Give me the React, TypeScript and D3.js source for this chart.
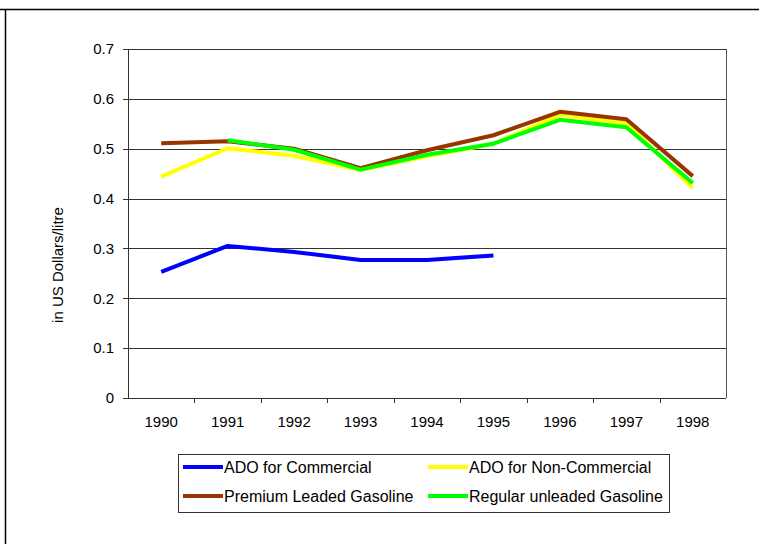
import React from "react";
import * as d3 from "d3";

const years = ["1990", "1991", "1992", "1993", "1994", "1995", "1996", "1997", "1998"];
const adoCommercial: (number | null)[] = [0.253, 0.305, 0.293, 0.277, 0.277, 0.286, null, null, null];
const adoNonCommercial: (number | null)[] = [0.444, 0.501, 0.486, 0.457, 0.485, 0.51, 0.568, 0.551, 0.421];
const premiumLeaded: (number | null)[] = [0.511, 0.515, 0.5, 0.461, 0.497, 0.527, 0.574, 0.559, 0.445];
const regularUnleaded: (number | null)[] = [null, 0.517, 0.498, 0.458, 0.488, 0.51, 0.558, 0.543, 0.431];
const yTicks = [0, 0.1, 0.2, 0.3, 0.4, 0.5, 0.6, 0.7];
const seriesNames = ["ADO for Commercial", "ADO for Non-Commercial", "Premium Leaded Gasoline", "Regular unleaded Gasoline"];
const seriesColors = ["#0000ff", "#ffff00", "#993300", "#00ff00"];
const seriesData = [adoCommercial, adoNonCommercial, premiumLeaded, regularUnleaded];

const W = 759, H = 544;
const L = 128, R = 726, T = 49, B = 398;

export default function App() {
  const x = d3.scaleBand<string>().domain(years).range([L, R]).padding(0);
  const y = d3.scaleLinear().domain([0, 0.7]).range([B, T]);
  const font = "'Liberation Sans', Arial, sans-serif";
  const line = d3
    .line<number | null>()
    .defined((d) => d !== null)
    .x((_, i) => (x(years[i]) as number) + x.bandwidth() / 2)
    .y((d) => y(d as number));

  const legendPos = [
    { lx: 183, ty: 467 },
    { lx: 428, ty: 467 },
    { lx: 183, ty: 496 },
    { lx: 428, ty: 496 },
  ];

  return (
    <svg width={W} height={H} style={{ position: "absolute", left: 0, top: 0, background: "#fff" }} fontFamily={font}>
      <rect x={0} y={0} width={W} height={H} fill="#fff" />
      {/* outer frame */}
      <line x1={0} x2={W} y1={9.5} y2={9.5} stroke="#000" strokeWidth={1.5} />
      <line x1={5.5} x2={5.5} y1={9.5} y2={H} stroke="#000" strokeWidth={1.5} />
      {/* gridlines */}
      {yTicks.map((t) => (
        <line key={"g" + t} x1={L} x2={R} y1={Math.round(y(t)) + 0.5} y2={Math.round(y(t)) + 0.5} stroke="#333" strokeWidth={1} />
      ))}
      {/* plot border */}
      <line x1={R + 0.5} x2={R + 0.5} y1={T} y2={B} stroke="#555" strokeWidth={1} />
      <line x1={L + 0.5} x2={L + 0.5} y1={T} y2={B + 0.5} stroke="#333" strokeWidth={1} />
      {/* y ticks */}
      {yTicks.map((t) => (
        <g key={"yt" + t}>
          <line x1={L - 5} x2={L} y1={Math.round(y(t)) + 0.5} y2={Math.round(y(t)) + 0.5} stroke="#333" />
          <text x={114} y={y(t)} dy="0.35em" textAnchor="end" fontSize={15} fill="#000">
            {d3.format("")(t)}
          </text>
        </g>
      ))}
      {/* x ticks */}
      {years.map((yr, i) => (
        <g key={"xt" + yr}>
          {i > 0 && (
            <line x1={Math.round(x(yr) as number) + 0.5} x2={Math.round(x(yr) as number) + 0.5} y1={B} y2={B + 5} stroke="#333" />
          )}
          <text x={(x(yr) as number) + x.bandwidth() / 2} y={427} textAnchor="middle" fontSize={15} fill="#000">
            {yr}
          </text>
        </g>
      ))}
      {/* y axis title */}
      <text transform={`translate(63,265) rotate(-90)`} textAnchor="middle" fontSize={15} fill="#000">
        in US Dollars/litre
      </text>
      {/* lines */}
      {seriesData.map((s, i) => (
        <path key={"s" + i} d={line(s) as string} fill="none" stroke={seriesColors[i]} strokeWidth={4} strokeLinejoin="round" />
      ))}
      {/* legend */}
      <rect x={178.5} y={454.5} width={491} height={58} fill="#fff" stroke="#333" strokeWidth={1} />
      {seriesNames.map((n, i) => (
        <g key={"lg" + i}>
          <line x1={legendPos[i].lx} x2={legendPos[i].lx + 40} y1={legendPos[i].ty} y2={legendPos[i].ty} stroke={seriesColors[i]} strokeWidth={4} />
          <text x={legendPos[i].lx + 41} y={legendPos[i].ty} dy="0.35em" fontSize={16} fill="#000">
            {n}
          </text>
        </g>
      ))}
    </svg>
  );
}
